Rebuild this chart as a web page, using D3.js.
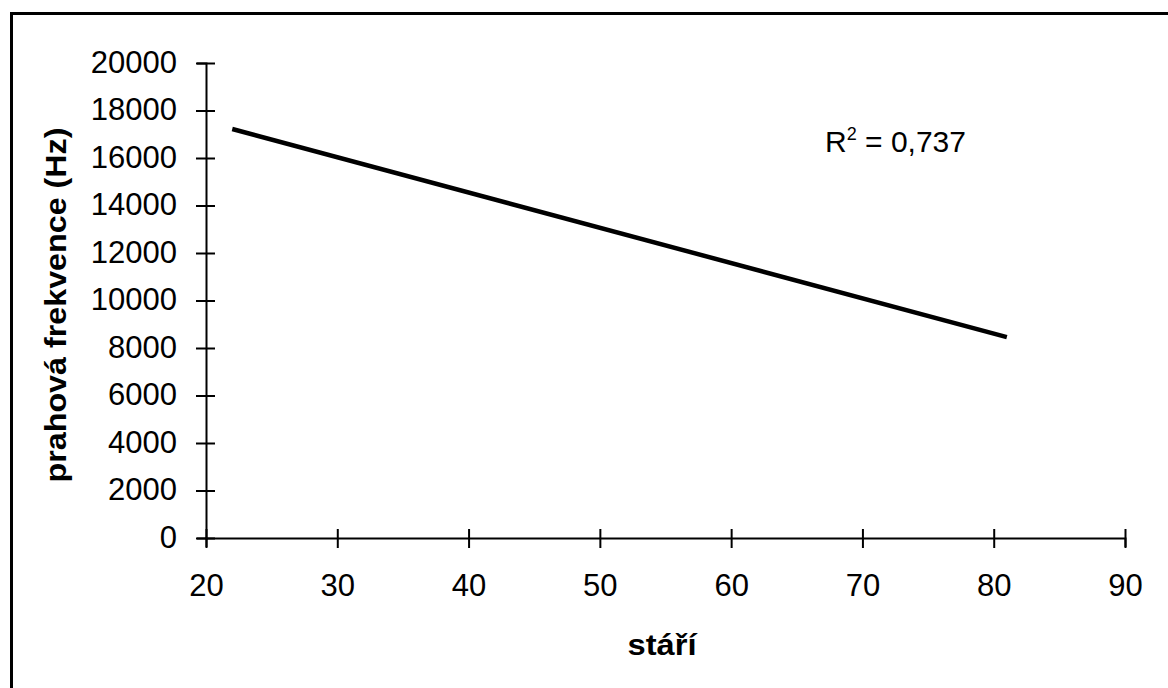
<!DOCTYPE html>
<html lang="cs">
<head>
<meta charset="UTF-8">
<title>prahová frekvence</title>
<script src="https://d3js.org/d3.v7.min.js"></script>
<style>
  body { margin: 0; background: #fff; }
  svg text { font-family: "Liberation Sans", Arial, sans-serif; fill: #000; }
</style>
</head>
<body>
<div id="plot"></div>
<script>
// trend line (linear fit) end points
let ageValues = [22, 81];
let freqValues = [17220, 8460];
let xTicks = [20, 30, 40, 50, 60, 70, 80, 90];
let yTicks = [0, 2000, 4000, 6000, 8000, 10000, 12000, 14000, 16000, 18000, 20000];
let rSquared = '0,737';

function translate(x, y) {
    return 'translate(' + x + ', ' + y + ')';
}

let svgWidth = 1168, svgHeight = 688;
let svg = d3.select('#plot').append('svg')
    .attr('width', svgWidth)
    .attr('height', svgHeight);

// frame (only top/left visible, rest runs off the picture)
svg.append('rect')
    .attr('x', 11.5).attr('y', 13.5)
    .attr('width', 1200).attr('height', 700)
    .attr('fill', 'none')
    .attr('stroke', '#000')
    .attr('stroke-width', 3);

let x = d3.scaleLinear().domain([20, 90]).range([206, 1125]);
let y = d3.scaleLinear().domain([0, 20000]).range([538, 63]);

let xAxis = d3.axisBottom(x).tickValues(xTicks).tickSize(9).tickPadding(27);
let yAxis = d3.axisLeft(y).tickValues(yTicks).tickSize(9).tickPadding(20)
    .tickFormat(d3.format('d'));

let gx = svg.append('g').attr('transform', translate(0, y(0))).call(xAxis);
let gy = svg.append('g').attr('transform', translate(x(20), 0)).call(yAxis);

// ticks cross the axis line
gx.selectAll('.tick line').attr('y1', -9).attr('y2', 10);
gy.selectAll('.tick line').attr('x1', -10).attr('x2', 9);
[gx, gy].forEach(g => {
    g.select('.domain').attr('stroke', '#000').attr('stroke-width', 2);
    g.selectAll('.tick line').attr('stroke', '#000').attr('stroke-width', 2);
    g.selectAll('text').style('font-size', '31px');
});
gy.selectAll('text').attr('dy', '0.3em');

let line = d3.line()
    .x(d => x(d[0]))
    .y(d => y(d[1]));

svg.append('path')
    .datum(ageValues.map((a, i) => [a, freqValues[i]]))
    .attr('d', line)
    .attr('fill', 'none')
    .attr('stroke', '#000')
    .attr('stroke-width', 4.5);

// R squared annotation
let r2 = svg.append('text')
    .attr('x', 825).attr('y', 152)
    .style('font-size', '30px');
r2.append('tspan').text('R');
r2.append('tspan').attr('dy', -12).style('font-size', '18px').text('2');
r2.append('tspan').attr('dy', 12).text(' = ' + rSquared);

// axis titles
svg.append('text')
    .attr('x', 662).attr('y', 655)
    .attr('text-anchor', 'middle')
    .attr('textLength', 69)
    .attr('lengthAdjust', 'spacingAndGlyphs')
    .style('font-size', '30px')
    .style('font-weight', 'bold')
    .text('stáří');

svg.append('text')
    .attr('transform', translate(66, 305) + ' rotate(-90)')
    .attr('text-anchor', 'middle')
    .attr('textLength', 355)
    .attr('lengthAdjust', 'spacingAndGlyphs')
    .style('font-size', '30px')
    .style('font-weight', 'bold')
    .text('prahová frekvence (Hz)');
</script>
</body>
</html>
